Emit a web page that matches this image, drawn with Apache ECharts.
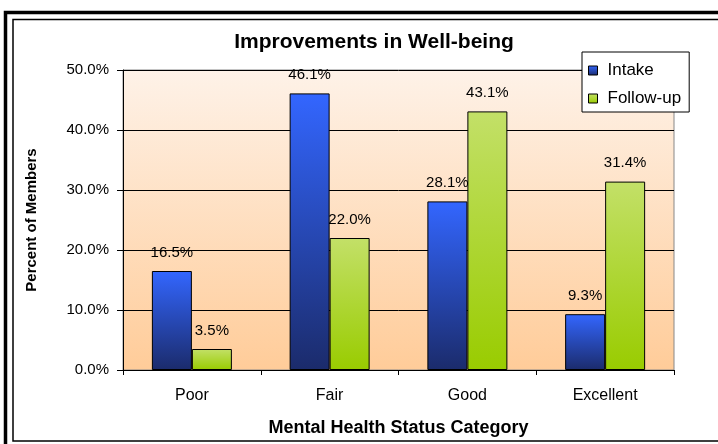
<!DOCTYPE html>
<html lang="en">
<head>
    <meta charset="UTF-8">
    <title>Improvements in Well-being</title>
    <script src="https://cdn.jsdelivr.net/npm/echarts@6/dist/echarts.min.js"></script>
    <style>
        html, body { margin: 0; padding: 0; background: #fff; overflow: hidden; }
        #chart { width: 718px; height: 444px; }
    </style>
</head>
<body>
    <div id="chart"></div>
    <script>
        var categories = ['Poor', 'Fair', 'Good', 'Excellent'];
        var intake = [16.5, 46.1, 28.1, 9.3];
        var followUp = [3.5, 22.0, 43.1, 31.4];
        var seriesNames = ['Intake', 'Follow-up'];

        var FONT = '"Liberation Sans", Arial, sans-serif';
        var chart = echarts.init(document.getElementById('chart'));

        function grad(top, bottom) {
            return new echarts.graphic.LinearGradient(0, 0, 0, 1, [
                { offset: 0, color: top },
                { offset: 1, color: bottom }
            ]);
        }

        var labelStyle = {
            show: true,
            position: 'top',
            distance: 11,
            color: '#000',
            fontFamily: FONT,
            fontSize: 15,
            formatter: function (p) { return p.value.toFixed(1) + '%'; }
        };

        var option = {
            backgroundColor: '#fff',
            animation: false,
            title: {
                text: 'Improvements in Well-being',
                left: 369,
                top: 27,
                textAlign: 'center',
                textStyle: { fontFamily: FONT, fontSize: 21, fontWeight: 'bold', color: '#000' }
            },
            legend: {
                data: seriesNames,
                orient: 'vertical',
                left: 582,
                top: 52,
                padding: [10, 8, 5, 6],
                itemWidth: 9,
                itemHeight: 9,
                itemGap: 11,
                icon: 'rect',
                backgroundColor: '#fff',
                borderColor: '#000',
                borderWidth: 1,
                itemStyle: { borderColor: '#000', borderWidth: 1 },
                textStyle: { fontFamily: FONT, fontSize: 17, color: '#000', padding: [0, 0, 0, 5] }
            },
            grid: {
                left: 123,
                right: 44,
                top: 70,
                bottom: 74,
                show: true,
                borderColor: '#888',
                borderWidth: 1,
                backgroundColor: grad('#FEF2E8', '#FFCC99'),
                containLabel: false
            },
            xAxis: {
                type: 'category',
                data: categories,
                name: 'Mental Health Status Category',
                nameLocation: 'middle',
                nameGap: 49,
                nameTextStyle: { fontFamily: FONT, fontSize: 18, fontWeight: 'bold', color: '#000' },
                axisLine: { lineStyle: { color: '#000', width: 1 } },
                axisTick: { show: true, length: 5, inside: false, lineStyle: { color: '#000' } },
                axisLabel: { margin: 18, color: '#000', fontFamily: FONT, fontSize: 16 }
            },
            yAxis: {
                type: 'value',
                min: 0,
                max: 50,
                interval: 10,
                name: 'Percent of Members',
                nameLocation: 'middle',
                nameGap: 84,
                nameTextStyle: { fontFamily: FONT, fontSize: 15, fontWeight: 'bold', color: '#000' },
                axisLine: { show: true, lineStyle: { color: '#000', width: 1 } },
                axisTick: { show: true, length: 6, lineStyle: { color: '#000' } },
                axisLabel: {
                    margin: 14,
                    color: '#000',
                    fontFamily: FONT,
                    fontSize: 15,
                    formatter: function (v) { return v.toFixed(1) + '%'; }
                },
                splitLine: { show: true, lineStyle: { color: '#000', width: 1 } }
            },
            series: [{
                name: seriesNames[0],
                type: 'bar',
                data: intake,
                barWidth: 40,
                barGap: '0%',
                itemStyle: { color: grad('#3366FF', '#1B2B6B'), borderColor: '#000', borderWidth: 1 },
                label: labelStyle
            }, {
                name: seriesNames[1],
                type: 'bar',
                data: followUp,
                barWidth: 40,
                barGap: '0%',
                itemStyle: { color: grad('#C3E068', '#99CC00'), borderColor: '#000', borderWidth: 1 },
                label: labelStyle
            }],
            graphic: [{
                type: 'rect',
                silent: true,
                shape: { x: 5.5, y: 12.5, width: 740, height: 460 },
                style: { fill: null, stroke: '#000', lineWidth: 3.5 }
            }, {
                type: 'rect',
                silent: true,
                shape: { x: 13, y: 19.5, width: 740, height: 421.5 },
                style: { fill: null, stroke: '#000', lineWidth: 1.5 }
            }]
        };

        chart.setOption(option);
    </script>
</body>
</html>
